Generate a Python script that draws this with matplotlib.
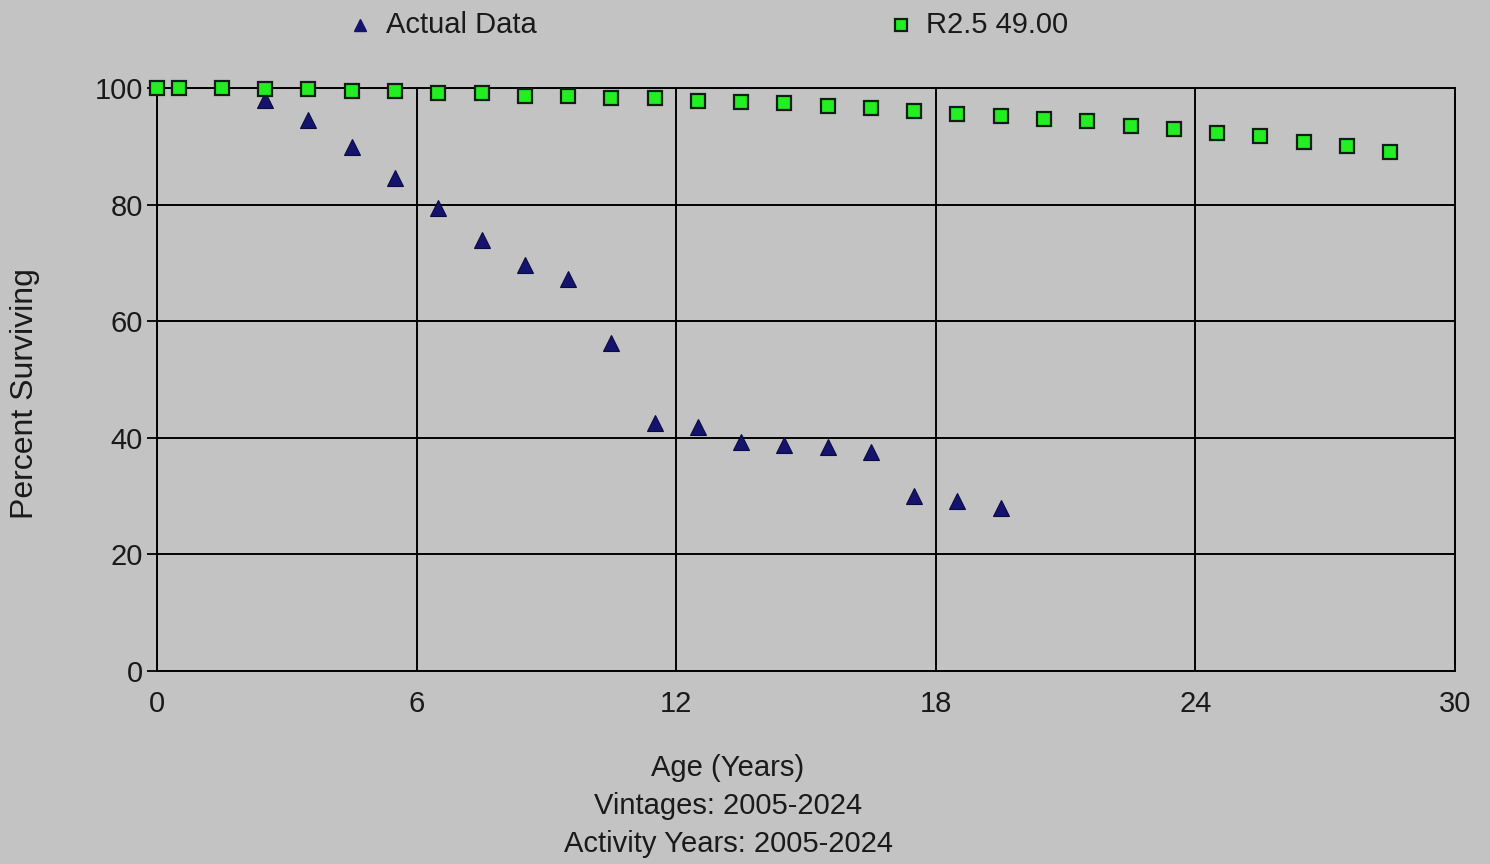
import matplotlib
matplotlib.use("Agg")
import matplotlib.pyplot as plt
from matplotlib.lines import Line2D

plt.rcParams['font.family'] = ['Liberation Sans', 'DejaVu Sans']

# Data
actual_age = [2.5, 3.5, 4.5, 5.5, 6.5, 7.5, 8.5, 9.5, 10.5, 11.5, 12.5, 13.5,
              14.5, 15.5, 16.5, 17.5, 18.5, 19.5]
actual_pct = [97.9, 94.5, 89.8, 84.5, 79.5, 73.9, 69.6, 67.2, 56.2, 42.5, 41.8, 39.2,
              38.8, 38.4, 37.5, 30.1, 29.2, 27.9]

curve_age = [0, 0.5, 1.5, 2.5, 3.5, 4.5, 5.5, 6.5, 7.5, 8.5, 9.5, 10.5, 11.5, 12.5,
             13.5, 14.5, 15.5, 16.5, 17.5, 18.5, 19.5, 20.5, 21.5, 22.5, 23.5, 24.5,
             25.5, 26.5, 27.5, 28.5]
curve_pct = [100, 100, 100, 99.9, 99.8, 99.5, 99.5, 99.1, 99.1, 98.7, 98.7, 98.3, 98.3,
             97.8, 97.6, 97.4, 96.9, 96.6, 96.1, 95.6, 95.2, 94.7, 94.3, 93.5, 93.0, 92.2,
             91.7, 90.8, 90.0, 89.0]

x_ticks = [0, 6, 12, 18, 24, 30]
y_ticks = [0, 20, 40, 60, 80, 100]
legend_labels = ["Actual Data", "R2.5 49.00"]
x_label_lines = ["Age (Years)", "Vintages: 2005-2024", "Activity Years: 2005-2024"]
y_label = "Percent Surviving"

BG = "#c3c3c3"
NAVY = "#14146e"
GREEN = "#22ee22"
TXT = "#1a1a1a"
FS = 21

W, H = 1490, 864
fig = plt.figure(figsize=(W / 100, H / 100), dpi=100, facecolor=BG)
ax = fig.add_axes([157 / W, 1 - 671 / H, (1455 - 157) / W, (671 - 88) / H])
ax.set_facecolor(BG)

ax.set_xlim(0, 30)
ax.set_ylim(0, 100)
ax.set_xticks(x_ticks)
ax.set_yticks(y_ticks)
ax.set_xticklabels([str(t) for t in x_ticks], fontsize=FS, color=TXT)
ax.set_yticklabels([str(t) for t in y_ticks], fontsize=FS, color=TXT)
ax.tick_params(axis='y', length=7, width=1.3, color="black", pad=3)
ax.tick_params(axis='x', length=0, pad=14)
ax.grid(True, color="black", linewidth=1.4)
ax.set_axisbelow(True)
for s in ax.spines.values():
    s.set_color("black")
    s.set_linewidth(1.4)

ax.plot(actual_age, actual_pct, linestyle="none", marker="^", markersize=11,
        color=NAVY, markeredgecolor="#0a0a40", markeredgewidth=0.8, zorder=3, clip_on=False)
ax.plot(curve_age, curve_pct, linestyle="none", marker="s", markersize=10,
        markerfacecolor=GREEN, markeredgecolor="#102010", markeredgewidth=1.6, zorder=4,
        clip_on=False)

# Legend (manual, in figure coordinates)
fig.add_artist(Line2D([360 / W], [1 - 25 / H], marker="^", markersize=9, color=NAVY,
                      linestyle="none", transform=fig.transFigure))
fig.text(386 / W, 1 - 25 / H, legend_labels[0], fontsize=FS, va="center", ha="left",
         color=TXT)
fig.add_artist(Line2D([901 / W], [1 - 25 / H], marker="s", markersize=9,
                      markerfacecolor=GREEN, markeredgecolor="#102010",
                      markeredgewidth=1.6, linestyle="none", transform=fig.transFigure))
fig.text(926 / W, 1 - 25 / H, legend_labels[1], fontsize=FS, va="center", ha="left",
         color=TXT)

# Axis labels
for i, line in enumerate(x_label_lines):
    fig.text(728 / W, 1 - (768 + 38 * i) / H, line, fontsize=FS, ha="center",
             va="center", color=TXT)
fig.text(25 / W, 1 - 394 / H, y_label, fontsize=23, rotation=90, ha="center",
         va="center", color=TXT)

fig.savefig("out.png", dpi=100, facecolor=BG)
